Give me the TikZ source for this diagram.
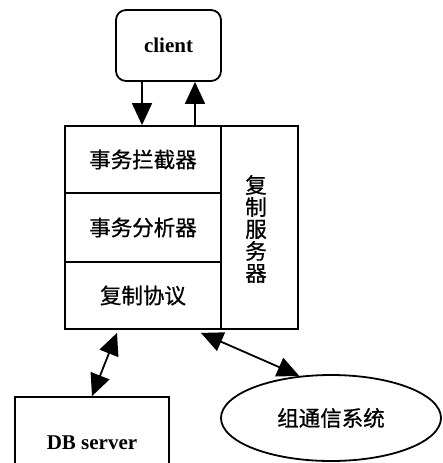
\documentclass[tikz,border=0pt]{standalone}
\usepackage{fontspec}
\setmainfont{Liberation Serif}
\newfontfamily\cjk[FakeBold=0.8]{Noto Sans CJK SC}
\usetikzlibrary{arrows.meta,shapes.geometric}
\begin{document}
\begin{tikzpicture}[x=1pt,y=-1pt,
  box/.style={draw,line width=1.8pt,inner sep=0pt},
  cn/.style={font=\cjk\fontsize{21.5}{22}\selectfont},
  en/.style={font=\bfseries\fontsize{21}{22}\selectfont},
  arr/.style={line width=1.8pt,-{Triangle[length=22pt,width=20pt]}},
  darr/.style={line width=1.8pt,{Triangle[length=22pt,width=20pt]}-{Triangle[length=22pt,width=20pt]}}]
\useasboundingbox (0,0) rectangle (442,463);
\node[box,rounded corners=10pt,minimum width=105pt,minimum height=71pt,en] (client) at (168.5,45.5) {client};
\node[box,minimum width=156pt,minimum height=67pt,cn] (l1) at (143,159.5) {事务拦截器};
\node[box,minimum width=156pt,minimum height=69pt,cn] (l2) at (143,227.5) {事务分析器};
\node[box,minimum width=156pt,minimum height=67pt,cn] (l3) at (143,295.5) {复制协议};
\node[box,minimum width=77pt,minimum height=203pt] (rs) at (259.5,227.5) {};
\node[cn,align=center] (rst) at (256,229) {复\\制\\服\\务\\器};
\node[box,minimum width=154pt,minimum height=92pt] (db) at (92,443) {};
\node[en] (dbt) at (92,443) {DB server};
\node[box,ellipse,minimum width=220pt,minimum height=86pt,cn] (ell) at (331,418) {组通信系统};
\draw[arr] ([xshift=-26.5pt]client.south) -- ([xshift=-1pt]l1.north);
\draw[arr] ([xshift=52pt]l1.north) -- ([xshift=26.5pt]client.south);
\draw[darr] ([xshift=-26pt,yshift=-3pt]l3.south) -- (db.north);
\draw[darr] ([xshift=-21pt,yshift=-3pt]l3.south east) -- (ell.127);
\end{tikzpicture}
\end{document}
